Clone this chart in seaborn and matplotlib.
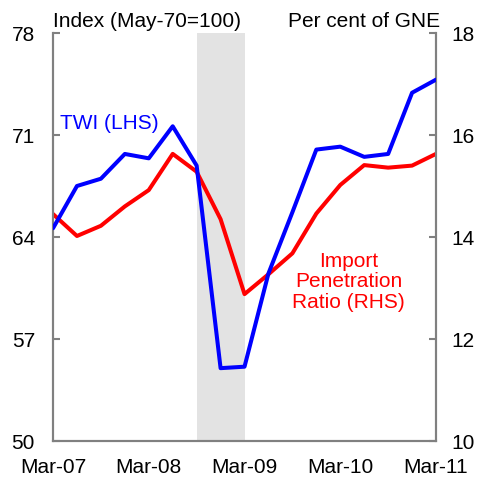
import matplotlib
matplotlib.use("Agg")
import matplotlib.pyplot as plt
import seaborn as sns
import pandas as pd

quarters = ["Mar-07", "Jun-07", "Sep-07", "Dec-07", "Mar-08", "Jun-08", "Sep-08", "Dec-08",
            "Mar-09", "Jun-09", "Sep-09", "Dec-09", "Mar-10", "Jun-10", "Sep-10", "Dec-10", "Mar-11"]
twi = [64.6, 67.5, 68.0, 69.7, 69.4, 71.6, 68.9, 55.0, 55.1, 61.5, 65.7, 70.0, 70.2, 69.5, 69.7, 73.9, 74.8]
import_pen = [14.45, 14.02, 14.22, 14.60, 14.92, 15.63, 15.28, 14.35, 12.88, 13.27, 13.68, 14.46,
              15.02, 15.41, 15.36, 15.40, 15.63]
tick_labels = ["Mar-07", "Mar-08", "Mar-09", "Mar-10", "Mar-11"]
left_ticks = [50, 57, 64, 71, 78]
right_ticks = [10, 12, 14, 16, 18]
shade_start, shade_end = "Sep-08", "Mar-09"

df = pd.DataFrame({"q": quarters, "pos": range(len(quarters)), "twi": twi, "ipr": import_pen})

sns.set_style("white")
plt.rcParams["font.family"] = ["Liberation Sans", "DejaVu Sans"]

fig = plt.figure(figsize=(4.82, 4.79), dpi=100)
ax = fig.add_axes([0.110, 0.0793, 0.7946, 0.8518])
ax2 = ax.twinx()

spine_col = "#808080"
fs = 15

pos_of = dict(zip(quarters, range(len(quarters))))
ax2.axvspan(pos_of[shade_start], pos_of[shade_end], color="#e3e3e3", lw=0, zorder=0)

sns.lineplot(data=df, x="pos", y="twi", ax=ax, color="#0000ff", lw=2.9, zorder=3)
sns.lineplot(data=df, x="pos", y="ipr", ax=ax2, color="#ff0000", lw=2.9, zorder=3)

ax.set_xlim(0, len(quarters) - 1)
ax.set_ylim(50, 78)
ax2.set_ylim(10, 18)
ax.set_yticks(left_ticks)
ax2.set_yticks(right_ticks)
ax.set_xticks([pos_of[t] for t in tick_labels])
ax.set_xticklabels(tick_labels)
ax.set_xlabel("")
ax.set_ylabel("")
ax2.set_xlabel("")
ax2.set_ylabel("")

for a in (ax, ax2):
    a.patch.set_visible(False)
    a.spines["top"].set_visible(False)
    for s in ("left", "right", "bottom"):
        a.spines[s].set_color(spine_col)
        a.spines[s].set_linewidth(1.5)

ax.tick_params(axis="y", direction="in", length=5, width=1.5, color=spine_col,
               labelsize=fs, pad=13, labelcolor="black")
ax2.tick_params(axis="y", direction="in", length=5, width=1.5, color=spine_col,
                labelsize=fs, pad=11, labelcolor="black")
ax.tick_params(axis="x", direction="in", length=5, width=1.5, color=spine_col,
               labelsize=fs, pad=12, labelcolor="black")
ax.set_zorder(ax2.get_zorder() + 1)

ax.text(0.0, 1.005, "Index (May-70=100)", transform=ax.transAxes, ha="left", va="bottom",
        fontsize=fs, color="black")
ax.text(1.012, 1.005, "Per cent of GNE", transform=ax.transAxes, ha="right", va="bottom",
        fontsize=fs, color="black")
ax.text(0.018, 0.777, "TWI (LHS)", transform=ax.transAxes, ha="left", va="center",
        fontsize=fs, color="#0000ff")
ax.text(0.772, 0.39, "Import\nPenetration\nRatio (RHS)", transform=ax.transAxes,
        ha="center", va="center", multialignment="center", linespacing=1.12,
        fontsize=fs, color="#ff0000")

fig.savefig("out.png", dpi=100)
